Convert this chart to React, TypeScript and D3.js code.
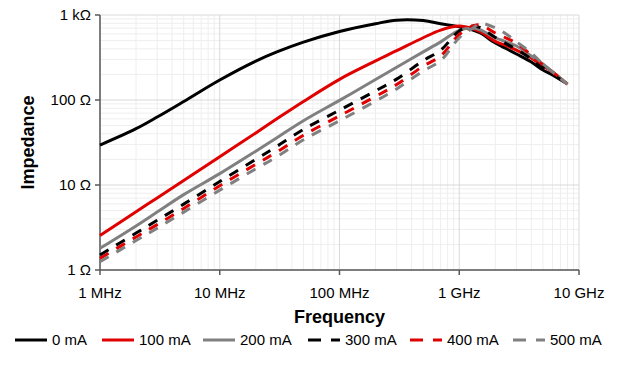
import React from 'react';
import { scaleLog, line, curveCatmullRom, range } from 'd3';

// frequency in MHz, impedance in ohms
const freqs = [1, 2, 3, 5, 10, 20, 30, 50, 100, 200, 300, 500, 700, 1000, 1300, 1500, 2000, 2500, 3000, 4000, 5000, 6000, 8000];

const z0mA = [29.5, 46, 63, 96, 172, 287, 368, 480, 640, 790, 870, 860, 790, 728, 666, 614, 468, 398, 348, 280, 225, 197, 154];
const z100mA = [2.55, 4.85, 7.05, 11.3, 21.5, 41, 60, 96, 175, 288, 380, 540, 665, 740, 690, 635, 490, 432, 387, 312, 251, 214, 154];
const z200mA = [1.8, 3.3, 4.8, 7.7, 13.6, 25, 36, 57, 99, 174, 243, 368, 483, 660, 705, 670, 540, 480, 432, 330, 265, 214, 154];
const z300mA = [1.5, 2.72, 3.84, 5.96, 11.0, 20, 28.5, 45, 76, 128, 176, 290, 385, 650, 742, 710, 545, 455, 395, 303, 238, 202, 154];
const z400mA = [1.37, 2.45, 3.42, 5.3, 9.8, 17.5, 24.5, 38.5, 65, 110, 152, 250, 330, 590, 742, 765, 614, 530, 465, 338, 258, 214, 154];
const z500mA = [1.25, 2.22, 3.1, 4.8, 8.7, 15.5, 21.5, 34, 57, 97, 135, 220, 290, 540, 700, 795, 705, 590, 485, 357, 265, 214, 154];

const seriesNames = ['0 mA', '100 mA', '200 mA', '300 mA', '400 mA', '500 mA'];
const seriesValues = [z0mA, z100mA, z200mA, z300mA, z400mA, z500mA];
const seriesColors = ['#000000', '#e00000', '#808080', '#000000', '#e00000', '#808080'];
const seriesDashed = [false, false, false, true, true, true];

const xTicks = [1e6, 1e7, 1e8, 1e9, 1e10];
const xTickLabels = ['1 MHz', '10 MHz', '100 MHz', '1 GHz', '10 GHz'];
const yTicks = [1, 10, 100, 1000];
const yTickLabels = ['1 Ω', '10 Ω', '100 Ω', '1 kΩ'];

const App = () => {
    const width = 619
    const height = 365
    const left = 100
    const right = 579
    const top = 15
    const bottom = 270
    const font = "'Liberation Sans', Arial, sans-serif"

    const x = scaleLog().domain([1e6, 1e10]).range([left, right])
    const y = scaleLog().domain([1, 1000]).range([bottom, top])

    const minorX = []
    for (let d = 1e6; d < 1e10; d *= 10) range(2, 10).forEach(m => minorX.push(d * m))
    const minorY = []
    for (let d = 1; d < 1000; d *= 10) range(2, 10).forEach(m => minorY.push(d * m))

    const path = line()
        .x(d => x(d[0] * 1e6))
        .y(d => y(d[1]))
        .curve(curveCatmullRom.alpha(0.5))

    const legendX = [15, 102, 203, 308, 410, 513]

    return (
        <svg width={width} height={height} style={{ position: 'absolute', left: 0, top: 0, background: '#fff' }}>
            <g className='grid'>
                {minorX.map(v => <line key={`mx-${v}`} x1={x(v)} x2={x(v)} y1={top} y2={bottom} stroke='#eeeeee' strokeWidth={1} />)}
                {minorY.map(v => <line key={`my-${v}`} x1={left} x2={right} y1={y(v)} y2={y(v)} stroke='#eeeeee' strokeWidth={1} />)}
                {xTicks.map(v => <line key={`gx-${v}`} x1={x(v)} x2={x(v)} y1={top} y2={bottom} stroke='#d9d9d9' strokeWidth={1} />)}
                {yTicks.map(v => <line key={`gy-${v}`} x1={left} x2={right} y1={y(v)} y2={y(v)} stroke='#d9d9d9' strokeWidth={1} />)}
            </g>

            <g className='axes' stroke='#595959' strokeWidth={1.5}>
                <line x1={left} x2={left} y1={top} y2={bottom} />
                <line x1={left} x2={right} y1={bottom} y2={bottom} />
                {yTicks.map(v => <line key={`ty-${v}`} x1={left - 5} x2={left} y1={y(v)} y2={y(v)} />)}
                {xTicks.map(v => <line key={`tx-${v}`} x1={x(v)} x2={x(v)} y1={bottom} y2={bottom + 5} />)}
            </g>

            {yTicks.map((v, i) =>
                <text key={`yl-${v}`} x={left - 9} y={y(v)} dy='0.35em' textAnchor='end'
                    fontFamily={font} fontSize={15} fill='#000'>{yTickLabels[i]}</text>
            )}
            {xTicks.map((v, i) =>
                <text key={`xl-${v}`} x={x(v)} y={298} textAnchor='middle'
                    fontFamily={font} fontSize={15} fill='#000'>{xTickLabels[i]}</text>
            )}

            <text x={(left + right) / 2} y={323} textAnchor='middle' fontFamily={font}
                fontSize={18} fontWeight='bold'>Frequency</text>
            <text transform={`translate(34, ${(top + bottom) / 2}) rotate(-90)`} textAnchor='middle'
                fontFamily={font} fontSize={18} fontWeight='bold'>Impedance</text>

            <g className='series'>
                {seriesValues.map((vals, i) =>
                    <path key={`s-${i}`} d={path(freqs.map((f, j) => [f, vals[j]]))}
                        fill='none' stroke={seriesColors[i]} strokeWidth={3}
                        strokeDasharray={seriesDashed[i] ? '10,9' : null} />
                )}
            </g>

            <g className='legend'>
                {seriesNames.map((name, i) =>
                    <g key={`lg-${name}`} transform={`translate(${legendX[i]}, 340)`}>
                        <line x1={0} x2={32} y1={0} y2={0} stroke={seriesColors[i]} strokeWidth={3}
                            strokeDasharray={seriesDashed[i] ? '13,10' : null} />
                        <text x={37} y={0} dy='0.35em' fontFamily={font} fontSize={15}>{name}</text>
                    </g>
                )}
            </g>
        </svg>
    )
}

export default App
